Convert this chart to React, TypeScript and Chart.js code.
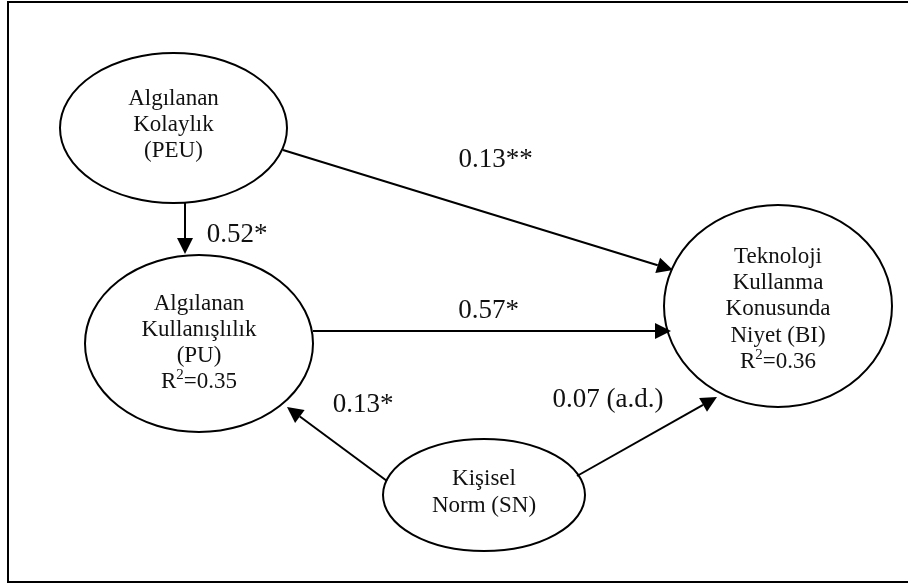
import React, { useEffect, useRef } from "react";
import { Chart, registerables } from "chart.js";

Chart.register(...registerables);

// Nodes (latent constructs) in diagram units
const nodeNames = ["PEU", "PU", "BI", "SN"];
const nodeCX = [173.5, 199, 778, 484];
const nodeCY = [128, 343.5, 306, 495];
const nodeRX = [113.5, 114, 114, 101];
const nodeRY = [75, 88.5, 101, 56];
const nodeLines: string[][] = [
  ["Algılanan", "Kolaylık", "(PEU)"],
  ["Algılanan", "Kullanışlılık", "(PU)", "R2=0.35"],
  ["Teknoloji", "Kullanma", "Konusunda", "Niyet (BI)", "R2=0.36"],
  ["Kişisel", "Norm (SN)"],
];
const nodeTextY = [105, 310, 263, 485];
const nodeLineGap = [26, 26, 26.2, 27];

// Paths (arrows) between constructs
const edgeFromX = [185, 283, 313, 387, 577];
const edgeFromY = [203, 150, 331, 481, 476];
const edgeToX = [185, 673, 671, 287, 717];
const edgeToY = [254, 270, 331, 407, 397];

// Path coefficients
const pathLabels = ["0.52*", "0.13**", "0.57*", "0.13*", "0.07 (a.d.)"];
const labelX = [237, 495.5, 488.5, 363, 608];
const labelY = [242, 167, 318, 412, 407];

const FONT = '"Liberation Serif", "Times New Roman", serif';
const NODE_SIZE = 23;
const LABEL_SIZE = 27;

const diagramPlugin = {
  id: "pathDiagram",
  afterDraw(chart: any) {
    const ctx = chart.ctx as CanvasRenderingContext2D;
    const xs = chart.scales.x;
    const ys = chart.scales.y;
    const px = (v: number) => xs.getPixelForValue(v);
    const py = (v: number) => ys.getPixelForValue(v);
    const sx = (v: number) => Math.abs(xs.getPixelForValue(v) - xs.getPixelForValue(0));
    const sy = (v: number) => Math.abs(ys.getPixelForValue(v) - ys.getPixelForValue(0));

    ctx.save();
    // frame
    ctx.strokeStyle = "#000";
    ctx.lineWidth = 2;
    ctx.strokeRect(px(8), py(2), sx(1000), sy(580));

    // ellipses
    ctx.lineWidth = 2;
    for (let i = 0; i < nodeNames.length; i++) {
      ctx.beginPath();
      ctx.ellipse(px(nodeCX[i]), py(nodeCY[i]), sx(nodeRX[i]), sy(nodeRY[i]), 0, 0, Math.PI * 2);
      ctx.stroke();
    }

    // arrows
    ctx.fillStyle = "#000";
    for (let i = 0; i < edgeFromX.length; i++) {
      const x1 = px(edgeFromX[i]);
      const y1 = py(edgeFromY[i]);
      const x2 = px(edgeToX[i]);
      const y2 = py(edgeToY[i]);
      const ang = Math.atan2(y2 - y1, x2 - x1);
      const L = 16;
      const W = 8;
      const bx = x2 - L * Math.cos(ang);
      const by = y2 - L * Math.sin(ang);
      ctx.beginPath();
      ctx.moveTo(x1, y1);
      ctx.lineTo(bx, by);
      ctx.stroke();
      ctx.beginPath();
      ctx.moveTo(x2, y2);
      ctx.lineTo(bx + W * Math.sin(ang), by - W * Math.cos(ang));
      ctx.lineTo(bx - W * Math.sin(ang), by + W * Math.cos(ang));
      ctx.closePath();
      ctx.fill();
    }

    // node texts
    ctx.fillStyle = "#111";
    ctx.textBaseline = "alphabetic";
    for (let i = 0; i < nodeNames.length; i++) {
      const lines = nodeLines[i];
      for (let k = 0; k < lines.length; k++) {
        const t = lines[k];
        const x = px(nodeCX[i]);
        const y = py(nodeTextY[i] + k * nodeLineGap[i]);
        if (t.startsWith("R2")) {
          const rest = t.slice(2);
          ctx.font = `${NODE_SIZE}px ${FONT}`;
          const wR = ctx.measureText("R").width;
          const wRest = ctx.measureText(rest).width;
          ctx.font = `15px ${FONT}`;
          const w2 = ctx.measureText("2").width;
          const total = wR + w2 + wRest;
          let cx = x - total / 2;
          ctx.textAlign = "left";
          ctx.font = `${NODE_SIZE}px ${FONT}`;
          ctx.fillText("R", cx, y);
          cx += wR;
          ctx.font = `15px ${FONT}`;
          ctx.fillText("2", cx, y - 9);
          cx += w2;
          ctx.font = `${NODE_SIZE}px ${FONT}`;
          ctx.fillText(rest, cx, y);
        } else {
          ctx.textAlign = "center";
          ctx.font = `${NODE_SIZE}px ${FONT}`;
          ctx.fillText(t, x, y);
        }
      }
    }

    // coefficient labels
    ctx.fillStyle = "#111";
    ctx.textAlign = "center";
    ctx.font = `${LABEL_SIZE}px ${FONT}`;
    for (let i = 0; i < pathLabels.length; i++) {
      ctx.fillText(pathLabels[i], px(labelX[i]), py(labelY[i]));
    }
    ctx.restore();
  },
};

export default function App() {
  const ref = useRef<HTMLCanvasElement | null>(null);
  useEffect(() => {
    document.body.style.margin = "0";
    const canvas = ref.current;
    if (!canvas) return;
    const chart = new Chart(canvas, {
      type: "scatter",
      data: {
        datasets: [
          {
            label: "constructs",
            data: nodeCX.map((x, i) => ({ x, y: nodeCY[i] })),
            pointRadius: 0,
            pointHoverRadius: 0,
          },
        ],
      },
      options: {
        responsive: false,
        animation: false,
        events: [],
        layout: { padding: 0 },
        plugins: { legend: { display: false }, tooltip: { enabled: false } },
        scales: {
          x: { type: "linear", min: 0, max: 908, display: false },
          y: { type: "linear", min: 0, max: 584, reverse: true, display: false },
        },
      },
      plugins: [diagramPlugin],
    });
    return () => chart.destroy();
  }, []);
  return (
    <div style={{ position: "absolute", left: 0, top: 0, width: 908, height: 584, background: "#fff" }}>
      <canvas ref={ref} width={908} height={584} style={{ display: "block" }} />
    </div>
  );
}
